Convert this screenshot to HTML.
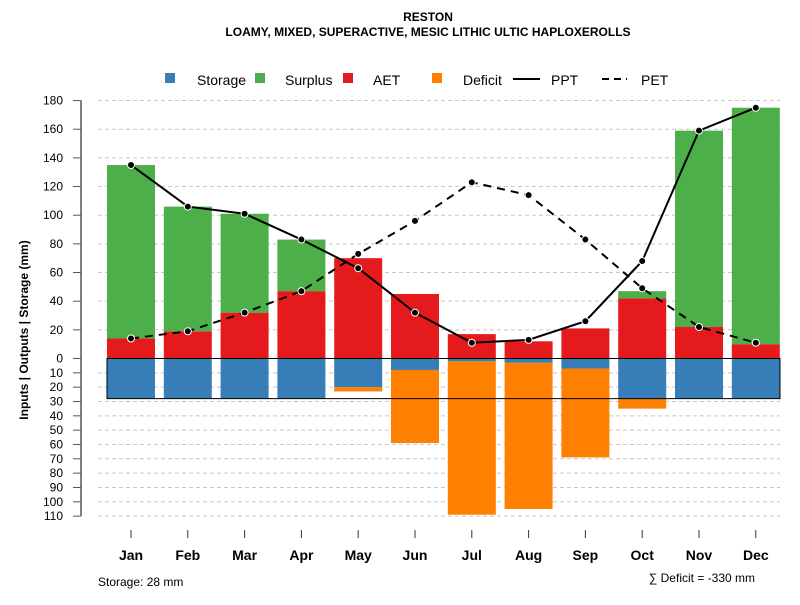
<!DOCTYPE html>
<html><head><meta charset="utf-8"><style>
body{margin:0;background:#fff;}
svg{font-family:"Liberation Sans",sans-serif;}
</style></head><body>
<svg id="c" width="800" height="600" xmlns="http://www.w3.org/2000/svg">
<text x="428" y="21" text-anchor="middle" font-size="12" font-weight="bold">RESTON</text>
<text x="428" y="36" text-anchor="middle" font-size="12" font-weight="bold">LOAMY, MIXED, SUPERACTIVE, MESIC LITHIC ULTIC HAPLOXEROLLS</text>
<g font-size="14">
<rect x="165" y="73" width="10" height="10" fill="#377eb8"/>
<text x="197" y="85">Storage</text>
<rect x="255" y="73" width="10" height="10" fill="#4daf4a"/>
<text x="285" y="85">Surplus</text>
<rect x="343" y="73" width="10" height="10" fill="#e41a1c"/>
<text x="373" y="85">AET</text>
<rect x="432" y="73" width="10" height="10" fill="#ff7f00"/>
<text x="463" y="85">Deficit</text>
<line x1="513" y1="79" x2="540" y2="79" stroke="#000" stroke-width="2"/>
<text x="551" y="85">PPT</text>
<line x1="602" y1="79" x2="627" y2="79" stroke="#000" stroke-width="2" stroke-dasharray="7,5"/>
<text x="641" y="85">PET</text>
</g>
<text transform="translate(28,330) rotate(-90)" text-anchor="middle" font-size="12" font-weight="bold">Inputs | Outputs | Storage    (mm)</text>
<text x="98" y="586" font-size="12">Storage: 28 mm</text>
<text x="755" y="582" text-anchor="end" font-size="12">∑ Deficit = -330 mm</text>
<g id="plot"></g>
</svg>
<script>
const months=["Jan","Feb","Mar","Apr","May","Jun","Jul","Aug","Sep","Oct","Nov","Dec"];
const aet=[14,19,32,47,70,45,17,12,21,42,22,10];
const surplus=[121,87,69,36,0,0,0,0,0,5,137,165];
const storage=[28,28,28,28,20,8,2,3,7,28,28,28];
const deficit=[0,0,0,0,3,51,107,102,62,7,0,0];
const ppt=[135,106,101,83,63,32,11,13,26,68,159,175];
const pet=[14,19,32,47,73,96,123,114,83,49,22,11];
const posTicks=[0,20,40,60,80,100,120,140,160,180];
const negTicks=[10,20,30,40,50,60,70,80,90,100,110];
const storageCap=28;
const NS="http://www.w3.org/2000/svg";
const g=document.getElementById('plot');
const y0=358.5,k=1.433;
function y(v){return y0-v*k;}
function xc(i){return 131+i*56.8;}
const bw=48;
function mk(t,a){const e=document.createElementNS(NS,t);for(const n in a)e.setAttribute(n,a[n]);g.appendChild(e);return e;}
// gridlines
posTicks.concat(negTicks.map(v=>-v)).forEach(v=>{
 if(v===0)return;
 const l=mk('line',{x1:98,x2:780,y1:y(v),y2:y(v),stroke:'#c8c8c8','stroke-dasharray':'4,3'});
 
 
});
// axis
const ax=mk('line',{x1:81,x2:81,y1:y(180),y2:y(-110),stroke:'#555','stroke-width':1.5});


posTicks.forEach(v=>{
 const t=mk('line',{x1:73,x2:81,y1:y(v),y2:y(v),stroke:'#555'});
 
 
 const tx=mk('text',{x:63,y:y(v)+4,'text-anchor':'end','font-size':12});tx.textContent=v;
 
 
});
negTicks.forEach(v=>{
 const t=mk('line',{x1:73,x2:81,y1:y(-v),y2:y(-v),stroke:'#555'});
 
 
 const tx=mk('text',{x:63,y:y(-v)+4,'text-anchor':'end','font-size':12});tx.textContent=v;
 
 
});
months.forEach((m,i)=>{
 const x=xc(i)-bw/2;
 let r=mk('rect',{x:x,y:y(aet[i]),width:bw,height:aet[i]*k,fill:'#e41a1c'});
 
 
 if(surplus[i]>0){r=mk('rect',{x:x,y:y(aet[i]+surplus[i]),width:bw,height:surplus[i]*k,fill:'#4daf4a'});
 
 }
 r=mk('rect',{x:x,y:y0,width:bw,height:storage[i]*k,fill:'#377eb8'});
 
 
 if(deficit[i]>0){r=mk('rect',{x:x,y:y(-storage[i]),width:bw,height:deficit[i]*k,fill:'#ff7f00'});
 
 }
 const t=mk('line',{x1:xc(i),x2:xc(i),y1:530,y2:538,stroke:'#333'});
 
 
 const tx=mk('text',{x:xc(i),y:560,'text-anchor':'middle','font-size':14,'font-weight':'bold'});tx.textContent=m;
 
 
});
const box=mk('rect',{x:107,y:y0,width:673,height:storageCap*k,fill:'none',stroke:'#000','stroke-width':1});


function series(arr,name,dash){
 const p=mk('polyline',{points:arr.map((v,i)=>xc(i)+','+y(v)).join(' '),fill:'none',stroke:'#000','stroke-width':2,'stroke-dasharray':dash||'none'});
 
 
 arr.forEach((v,i)=>{const c=mk('circle',{cx:xc(i),cy:y(v),r:3.5,fill:'#000',stroke:'#fff','stroke-width':1});
 
 });
}
series(ppt,'ppt');
series(pet,'pet','8,6');
</script>
</body></html>
